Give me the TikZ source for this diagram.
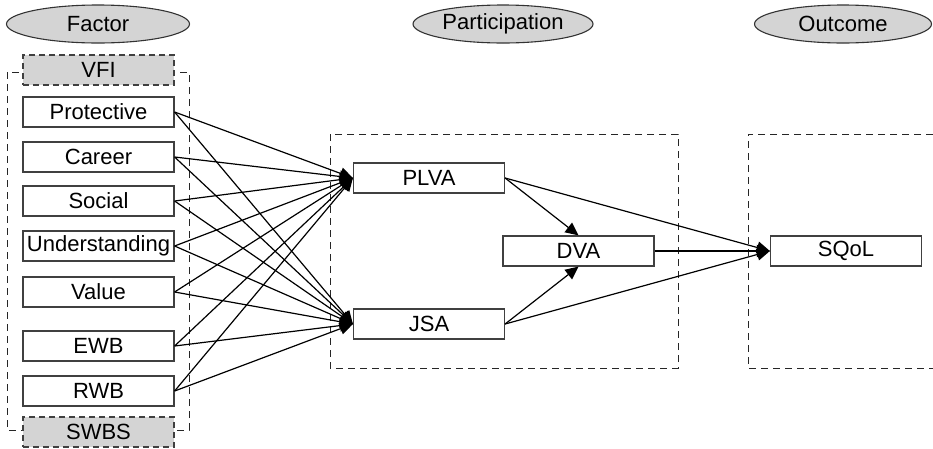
\documentclass[tikz,border=0pt]{standalone}
\usepackage{fontspec}
\setmainfont{Liberation Sans}
\usetikzlibrary{arrows.meta,shapes.geometric}
\tikzset{
  var/.style={draw=black!75,line width=1.2pt,minimum width=151pt,minimum height=30pt,
    inner sep=0pt,font=\fontsize{22}{26}\selectfont},
  instrument/.style={var,fill=black!17,dashed,dash pattern=on 6pt off 4pt},
  stage/.style={ellipse,draw=black!80,line width=1.1pt,fill=black!17,minimum width=183pt,
    minimum height=38pt,inner sep=0pt,font=\fontsize{22}{26}\selectfont},
  group/.style={draw=black!85,line width=1pt,dash pattern=on 7pt off 5pt},
  link/.style={line width=1.2pt,-{Triangle[length=13pt,width=12pt]}}
}
\begin{document}
\begin{tikzpicture}[x=1pt,y=-1pt]
  \useasboundingbox (0,0) rectangle (933,448);
  \node[stage] (factor) at (98,24) {Factor};
  \node[stage,minimum width=180pt] (participation) at (503,24) {Participation};
  \node[stage,minimum width=177pt] (outcome) at (843,24) {Outcome};
  % dashed groups
  \draw[group] (7,72) rectangle (189,430);
  \draw[group] (330,134) rectangle (678,368);
  \draw[group] (933,134) -- (748,134) -- (748,368) -- (933,368);
  \node[instrument] (vfi) at (98.5,70) {VFI};
  \node[instrument] (swbs) at (98.5,432) {SWBS};
  \foreach \name/\txt/\y in {prot/Protective/112,career/Career/157,social/Social/201,
      under/Understanding/246,value/Value/292,ewb/EWB/346,rwb/RWB/391}
    \node[var] (\name) at (98.5,\y) {\txt};
  \node[var] (plva) at (429,178) {PLVA};
  \node[var] (jsa) at (429,324) {JSA};
  \node[var] (dva) at (578.5,251) {DVA};
  \node[var] (sqol) at (846,251) {SQoL};
  \foreach \name in {prot,career,social,under,value,ewb,rwb} {
    \draw[link] (\name.east) -- (plva.west);
    \draw[link] (\name.east) -- (jsa.west);
  }
  \draw[link] (plva.east) -- (dva.north);
  \draw[link] (jsa.east) -- (dva.south);
  \draw[link] (plva.east) -- (sqol.west);
  \draw[link] (jsa.east) -- (sqol.west);
  \draw[link,line width=2pt] (dva.east) -- (sqol.west);
\end{tikzpicture}
\end{document}
